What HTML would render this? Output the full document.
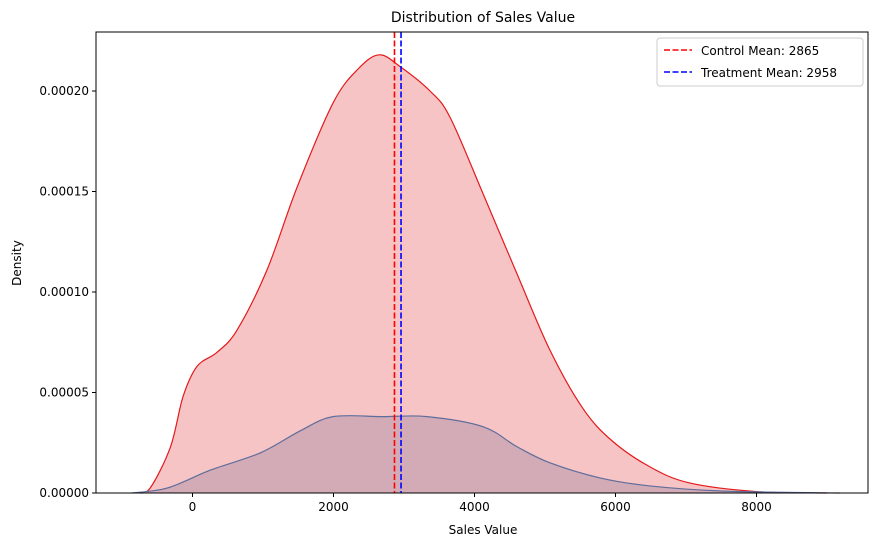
<!DOCTYPE html>
<html><head><meta charset="utf-8"><style>
body{margin:0;background:#fff;font-family:"Liberation Sans","DejaVu Sans",sans-serif}
svg text{font-family:"DejaVu Sans","Liberation Sans",sans-serif}
</style></head><body>
<svg id="c" width="881" height="547" xmlns="http://www.w3.org/2000/svg"></svg>
<script>
const controlX=[-780,-600,-312,-134,64,348,631,1057,1482,1993,2350,2650,2950,3369,3652,4120,4603,5071,5539,5950,6489,7050,8000,9000];
const controlY=[0,0.0000025,0.000023,0.000048,0.000063,0.00007,0.000081,0.000111,0.000152,0.000194,0.000211,0.000218,0.000212,0.0002,0.000187,0.000149,0.000109,0.000071,0.000042,0.000026,0.000013,0.000005,0.0000007,0];
const treatX=[-860,-355,255,965,1532,1993,2702,3326,4120,4603,5071,5780,6489,7500,9180];
const treatY=[0,0.0000025,0.0000114,0.00002,0.000031,0.000038,0.000038,0.000038,0.000033,0.000023,0.000015,0.0000075,0.0000035,0.000001,0];
const controlMean=2865, treatMean=2958;
const xTicks=[0,2000,4000,6000,8000];
const yTicks=[0,0.00005,0.0001,0.00015,0.0002];
const yTickLabels=["0.00000","0.00005","0.00010","0.00015","0.00020"];
const L=96,R=868,T=32,B=493;
const sx=v=>192.5+v*0.0705;
const sy=v=>493-v*2010000;
const svg=document.getElementById('c');
const NS='http://www.w3.org/2000/svg';
function mk(t,a,txt){const e=document.createElementNS(NS,t);for(const k in a)e.setAttribute(k,a[k]);if(txt!==undefined)e.textContent=txt;svg.appendChild(e);return e;}
function smooth(xs,ys){const p=xs.map((x,i)=>[sx(x),sy(ys[i])]);let d='M'+p[0][0]+','+p[0][1];
for(let i=0;i<p.length-1;i++){const p0=p[i-1]||p[i],p1=p[i],p2=p[i+1],p3=p[i+2]||p2;
d+=' C'+(p1[0]+(p2[0]-p0[0])/6)+','+(p1[1]+(p2[1]-p0[1])/6)+' '+(p2[0]-(p3[0]-p1[0])/6)+','+(p2[1]-(p3[1]-p1[1])/6)+' '+p2[0]+','+p2[1];}
return d;}
const cd=smooth(controlX,controlY);
let e=mk('path',{d:cd+' Z',fill:'#f6c4c5',stroke:'none'});

e=mk('path',{d:cd,fill:'none',stroke:'#e41a1c','stroke-width':1.2});

const td=smooth(treatX,treatY);
e=mk('path',{d:td+' Z',fill:'#d2abb7',stroke:'none'});

e=mk('path',{d:td,fill:'none',stroke:'#5f6d9b','stroke-width':1.2});

e=mk('line',{x1:sx(controlMean),x2:sx(controlMean),y1:T,y2:B,stroke:'#ff0000','stroke-width':1.6,'stroke-dasharray':'6,2.5'});

e=mk('line',{x1:sx(treatMean),x2:sx(treatMean),y1:T,y2:B,stroke:'#0000ff','stroke-width':1.6,'stroke-dasharray':'6,2.5'});

e=mk('rect',{x:L,y:T,width:R-L,height:B-T,fill:'none',stroke:'#000','stroke-width':1});

xTicks.forEach(v=>{const x=sx(v);
e=mk('line',{x1:x,x2:x,y1:B,y2:B+4,stroke:'#000'});
e=mk('text',{x:x,y:B+18,'text-anchor':'middle','font-size':12},String(v));});
yTicks.forEach((v,i)=>{const y=sy(v);
e=mk('line',{x1:L-4,x2:L,y1:y,y2:y,stroke:'#000'});
e=mk('text',{x:L-7,y:y+4,'text-anchor':'end','font-size':12},yTickLabels[i]);});
e=mk('text',{x:483,y:22,'text-anchor':'middle','font-size':14},'Distribution of Sales Value');
e=mk('text',{x:483,y:534,'text-anchor':'middle','font-size':12},'Sales Value');
e=mk('text',{x:21,y:263,'text-anchor':'middle','font-size':12,transform:'rotate(-90 21 263)'},'Density');
e=mk('rect',{x:657,y:38,width:206,height:48,rx:3,fill:'#fff',stroke:'#ccc'});
e=mk('line',{x1:664,x2:692,y1:50,y2:50,stroke:'#ff0000','stroke-width':1.6,'stroke-dasharray':'6,2.5'});
e=mk('text',{x:701,y:55,'font-size':12},'Control Mean: '+controlMean);
e=mk('line',{x1:664,x2:692,y1:72,y2:72,stroke:'#0000ff','stroke-width':1.6,'stroke-dasharray':'6,2.5'});
e=mk('text',{x:701,y:77,'font-size':12},'Treatment Mean: '+treatMean);
</script>
</body></html>
